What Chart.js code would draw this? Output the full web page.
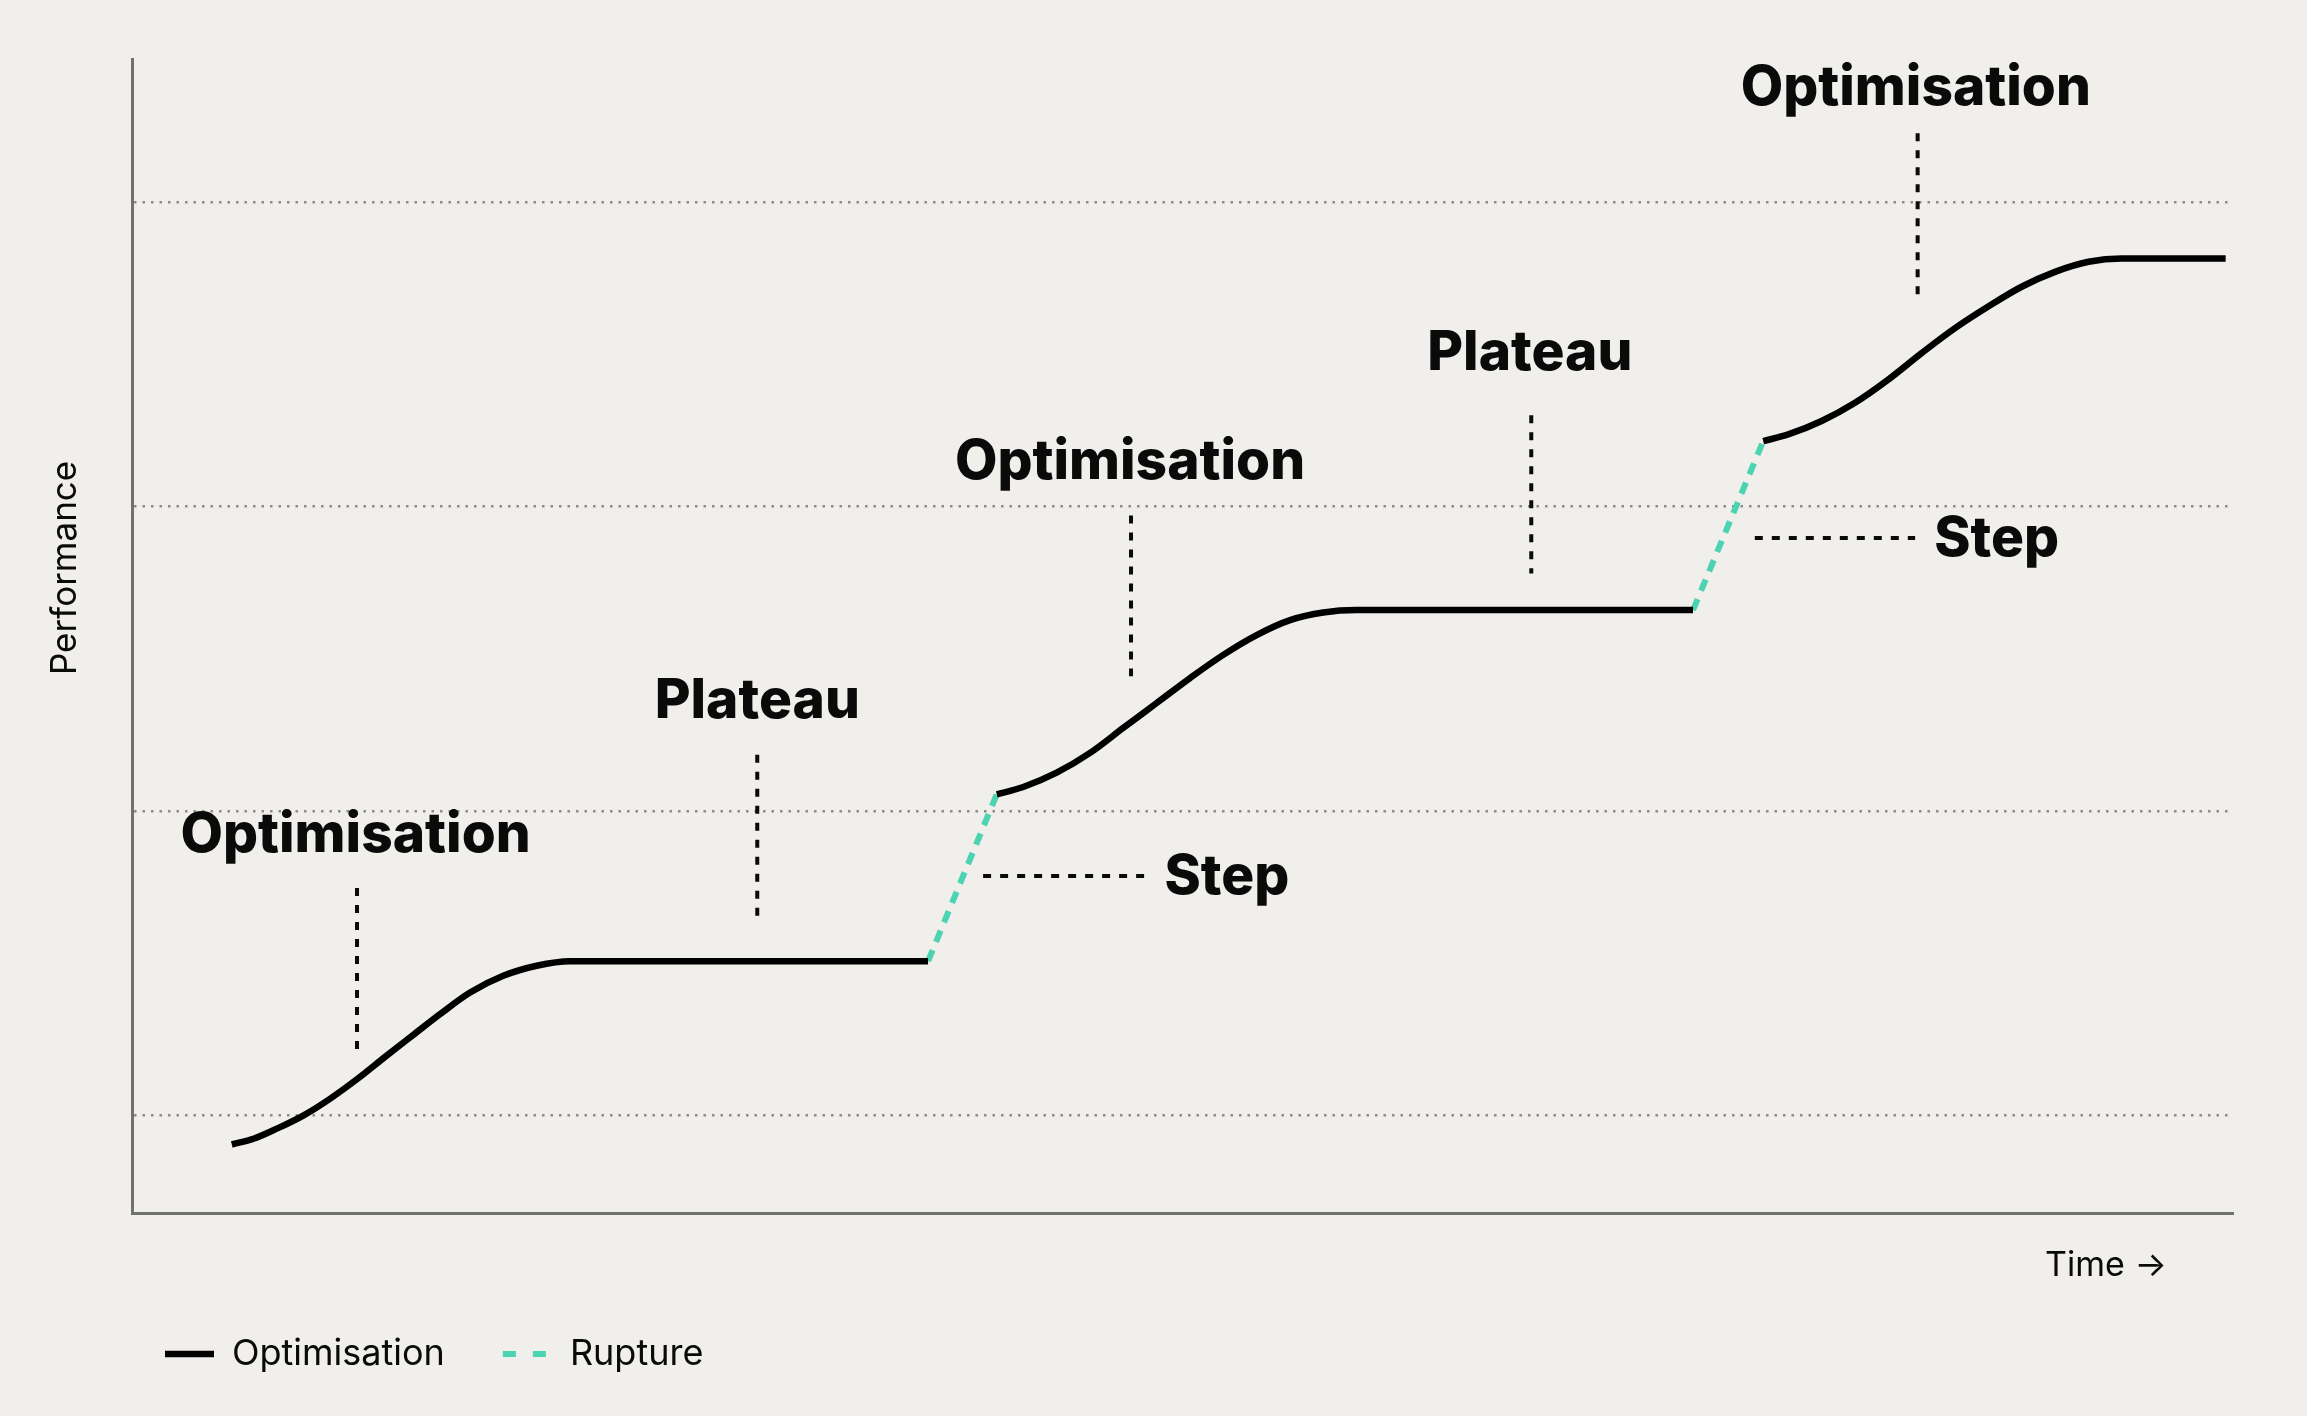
<!DOCTYPE html>
<html lang="en">
<head>
    <meta charset="UTF-8">
    <title>Optimisation, Plateau, Step</title>
    <style>
        html, body {
            margin: 0;
            padding: 0;
            background: #f0efeb;
        }
        .chart-box {
            width: 2307px;
            height: 1416px;
            position: relative;
        }
    </style>
</head>
<body>
<div class="chart-box">
    <canvas id="stepChart"></canvas>
</div>
<script src="https://cdn.jsdelivr.net/npm/chart.js"></script>
<script>
// time runs 0..100 along x, performance in grid units on y
const gridLevels = [1, 2, 3, 4];

// optimisation curves, [time, performance]
const optimisationA = [[4.75, 0.905], [5.78, 0.924], [6.89, 0.957], [8.15, 1.0], [9.42, 1.055], [10.72, 1.12], [12.12, 1.197], [13.39, 1.265], [14.66, 1.333], [16.09, 1.404], [17.67, 1.459], [19.26, 1.492], [20.85, 1.507], [37.89, 1.507]];
const optimisationB = [[41.16, 2.055], [42.42, 2.079], [44.01, 2.126], [45.60, 2.191], [47.18, 2.273], [48.77, 2.355], [50.36, 2.437], [51.94, 2.513], [53.53, 2.578], [55.12, 2.627], [56.70, 2.652], [58.29, 2.66], [74.30, 2.66]];
const optimisationC = [[77.64, 3.215], [78.83, 3.237], [80.42, 3.281], [82.01, 3.341], [83.59, 3.417], [85.18, 3.504], [86.77, 3.586], [88.35, 3.657], [89.94, 3.722], [91.53, 3.771], [93.12, 3.804], [94.70, 3.815], [99.65, 3.815]];

// rupture jumps
const ruptureA = [[37.89, 1.507], [41.16, 2.055]];
const ruptureB = [[74.30, 2.66], [77.64, 3.215]];

// annotation leaders [x1, y1, x2, y2]
const leaders = [
    [10.71, 1.747, 10.71, 1.218],
    [29.76, 2.185, 29.76, 1.632],
    [40.51, 1.787, 48.21, 1.787],
    [47.55, 2.971, 47.55, 2.443],
    [66.60, 3.300, 66.60, 2.780],
    [77.24, 2.897, 84.87, 2.897],
    [84.99, 4.226, 84.99, 3.672]
];

// annotation texts, anchored at baseline
const labelTexts = ['Optimisation', 'Plateau', 'Step', 'Optimisation', 'Plateau', 'Step', 'Optimisation'];
const labelX = [10.64, 29.76, 49.14, 47.50, 66.53, 85.78, 84.90];
const labelY = [1.865, 2.305, 1.728, 3.089, 3.450, 2.838, 4.320];
const labelAlign = ['center', 'center', 'left', 'center', 'center', 'left', 'center'];

const toPoints = arr => arr.map(p => ({ x: p[0], y: p[1] }));
// join pieces with a null point so the line breaks between them
function joinPieces(pieces) {
    const out = [];
    pieces.forEach((piece, i) => {
        if (i > 0) out.push({ x: piece[0].x, y: null });
        out.push(...piece);
    });
    return out;
}

const leaderPieces = leaders.map(l => [{ x: l[0], y: l[1] }, { x: l[2], y: l[3] }]);

const textPlugin = {
    id: 'stepTexts',
    afterDatasetsDraw(chart) {
        const { ctx, chartArea, scales: { x, y } } = chart;
        ctx.save();
        ctx.fillStyle = '#0a0a0a';
        ctx.font = '800 55px Inter';
        ctx.textBaseline = 'alphabetic';
        labelTexts.forEach((t, i) => {
            ctx.textAlign = labelAlign[i];
            ctx.fillText(t, x.getPixelForValue(labelX[i]), y.getPixelForValue(labelY[i]));
        });
        // axis titles
        ctx.font = '400 34px Inter';
        ctx.textBaseline = 'middle';
        ctx.textAlign = 'center';
        ctx.fillText('Time \u2192', chartArea.right - 127, chartArea.bottom + 53);
        ctx.font = '400 35px Inter';
        ctx.translate(chartArea.left - 67, chartArea.top + (chartArea.bottom - chartArea.top) * 0.441);
        ctx.rotate(-Math.PI / 2);
        ctx.fillText('Performance', 0, 0);
        ctx.restore();
    }
};

new Chart(document.getElementById('stepChart'), {
    type: 'line',
    data: {
        datasets: [
            {
                label: 'Optimisation',
                data: joinPieces([toPoints(optimisationA), toPoints(optimisationB), toPoints(optimisationC)]),
                borderColor: '#000000',
                borderWidth: 6.5,
                cubicInterpolationMode: 'monotone',
                pointRadius: 0,
                spanGaps: false
            },
            {
                label: 'Rupture',
                data: joinPieces([toPoints(ruptureA), toPoints(ruptureB)]),
                borderColor: '#4bd3b2',
                borderWidth: 6,
                borderDash: [12, 9],
                pointRadius: 0,
                spanGaps: false
            },
            {
                label: 'leaders',
                data: joinPieces(leaderPieces),
                borderColor: '#0a0a0a',
                borderWidth: 4,
                borderDash: [8, 9],
                pointRadius: 0,
                spanGaps: false
            }
        ]
    },
    options: {
        responsive: true,
        maintainAspectRatio: false,
        animation: false,
        layout: { padding: { top: 59, right: 74, bottom: 34, left: 107 } },
        scales: {
            x: {
                type: 'linear',
                min: 0,
                max: 100,
                ticks: { display: false },
                grid: { display: false, drawTicks: false },
                border: { display: true, color: '#72726d', width: 3 },
                afterFit: s => { s.height = 65; }
            },
            y: {
                type: 'linear',
                min: 0.68,
                max: 4.47,
                ticks: { display: false },
                afterBuildTicks: s => { s.ticks = gridLevels.map(v => ({ value: v })); },
                grid: { color: '#8c8c86', lineWidth: 2.5, drawTicks: false },
                border: { display: true, color: '#72726d', width: 3, dash: [2.5, 6] },
                afterFit: s => { s.width = 25; }
            }
        },
        plugins: {
            tooltip: { enabled: false },
            legend: {
                position: 'bottom',
                align: 'start',
                labels: {
                    filter: item => item.datasetIndex < 2,
                    usePointStyle: true,
                    pointStyle: 'line',
                    pointStyleWidth: 49,
                    padding: 58,
                    color: '#0a0a0a',
                    font: { family: 'Inter', size: 36, weight: '400' },
                    generateLabels: chart => {
                        const items = Chart.defaults.plugins.legend.labels.generateLabels(chart);
                        items.forEach(it => {
                            if (it.datasetIndex === 1) it.lineDash = [13, 17];
                        });
                        return items;
                    }
                }
            }
        }
    },
    plugins: [textPlugin]
});
</script>
</body>
</html>
